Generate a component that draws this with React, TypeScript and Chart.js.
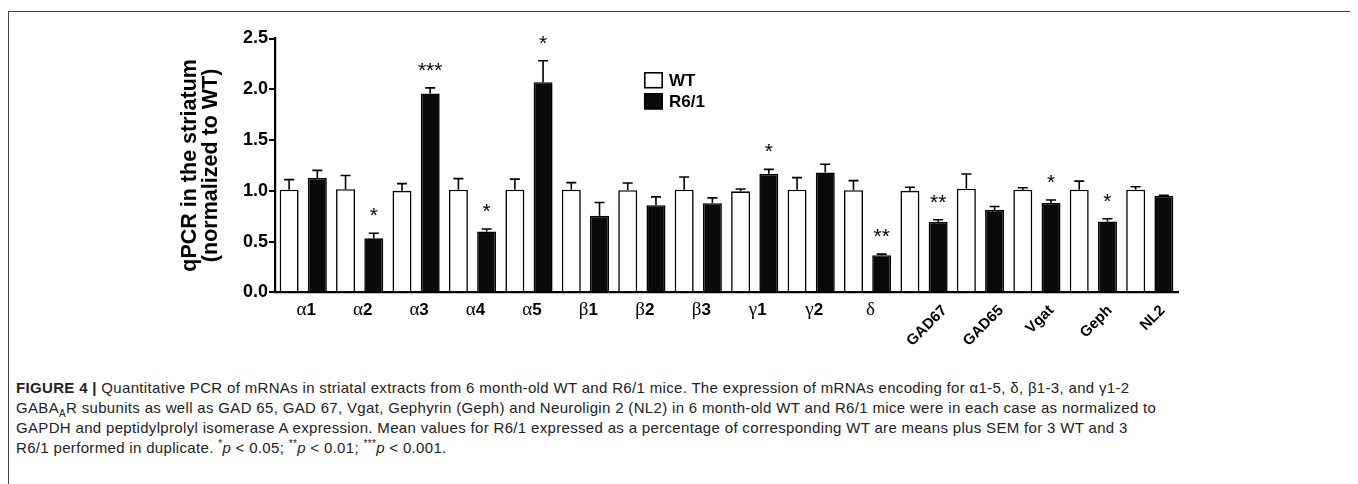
import React, { useEffect, useRef } from "react";
import { Chart, registerables } from "chart.js";

Chart.register(...registerables);

const categories = ["α1", "α2", "α3", "α4", "α5", "β1", "β2", "β3", "γ1", "γ2", "δ", "GAD67", "GAD65", "Vgat", "Geph", "NL2"];
const wtValues = [1.01, 1.015, 1.0, 1.01, 1.01, 1.01, 1.005, 1.01, 0.995, 1.01, 1.005, 1.0, 1.02, 1.01, 1.01, 1.01];
const wtErrors = [0.1, 0.135, 0.07, 0.11, 0.105, 0.07, 0.072, 0.125, 0.022, 0.12, 0.095, 0.035, 0.145, 0.02, 0.085, 0.03];
const r61Values = [1.126, 0.532, 1.958, 0.6, 2.069, 0.754, 0.858, 0.878, 1.168, 1.181, 0.366, 0.695, 0.81, 0.879, 0.698, 0.951];
const r61Errors = [0.075, 0.05, 0.056, 0.023, 0.212, 0.13, 0.082, 0.052, 0.043, 0.08, 0.01, 0.02, 0.035, 0.03, 0.026, 0.005];
const significance = ["", "*", "***", "*", "*", "", "", "", "*", "", "**", "**", "", "*", "*", ""];
const yTicks = [0, 0.5, 1.0, 1.5, 2.0, 2.5];
const seriesNames = ["WT", "R6/1"];

const errorSets = [wtErrors, r61Errors];
const SANS = "'Liberation Sans', Arial, Helvetica, sans-serif";
const SERIF = "'Liberation Serif', 'Times New Roman', serif";

const overlayPlugin = {
  id: "overlay",
  afterDatasetsDraw(chart: any) {
    const ctx = chart.ctx;
    const y = chart.scales.y;
    ctx.save();
    ctx.strokeStyle = "#000";
    ctx.lineWidth = 1.6;
    chart.data.datasets.forEach((ds: any, di: number) => {
      const meta = chart.getDatasetMeta(di);
      const errs = errorSets[di];
      meta.data.forEach((bar: any, i: number) => {
        const top = y.getPixelForValue(ds.data[i] + errs[i]);
        ctx.beginPath();
        ctx.moveTo(bar.x, bar.y);
        ctx.lineTo(bar.x, top);
        ctx.moveTo(bar.x - 5, top);
        ctx.lineTo(bar.x + 5, top);
        ctx.stroke();
      });
    });
    // significance stars above R6/1 bars
    const meta1 = chart.getDatasetMeta(1);
    ctx.fillStyle = "#000";
    ctx.font = `21px ${SANS}`;
    ctx.textAlign = "center";
    ctx.textBaseline = "alphabetic";
    meta1.data.forEach((bar: any, i: number) => {
      const s = significance[i];
      if (!s) return;
      const top = y.getPixelForValue(r61Values[i] + r61Errors[i]);
      const center = top - 23;
      ctx.fillText(s, bar.x, center + 12);
    });
    ctx.restore();
  },
  afterDraw(chart: any) {
    const ctx = chart.ctx;
    const x = chart.scales.x;
    const ca = chart.chartArea;
    const axisY = ca.bottom;
    ctx.save();
    ctx.fillStyle = "#000";
    ctx.textBaseline = "alphabetic";
    categories.forEach((lab: string, i: number) => {
      const cx = x.getPixelForValue(i);
      if (/^[α-ω]/.test(lab)) {
        const greek = lab[0];
        const rest = lab.slice(1);
        ctx.font = `19px ${SERIF}`;
        const gw = ctx.measureText(greek).width;
        ctx.font = `bold 17px ${SANS}`;
        const rw = ctx.measureText(rest).width;
        const total = gw + rw;
        const start = cx - total / 2 + 3;
        const base = axisY + 23;
        ctx.textAlign = "left";
        ctx.font = `19px ${SERIF}`;
        ctx.fillText(greek, start, base);
        ctx.font = `bold 17px ${SANS}`;
        ctx.fillText(rest, start + gw, base);
      } else {
        ctx.font = `bold 15px ${SANS}`;
        const w = ctx.measureText(lab).width;
        const h = 11;
        const cyc = axisY + 11 + ((w + h) * Math.SQRT1_2) / 2;
        ctx.save();
        ctx.translate(cx + 2, cyc);
        ctx.rotate(-Math.PI / 4);
        ctx.textAlign = "center";
        ctx.fillText(lab, 0, h / 2);
        ctx.restore();
      }
    });
    // legend
    const lx = ca.left + 0.4086 * (ca.right - ca.left);
    const tops = [ca.top + 33.5, ca.top + 54.5];
    chart.data.datasets.forEach((ds: any, di: number) => {
      const t = tops[di];
      ctx.fillStyle = ds.backgroundColor;
      ctx.fillRect(lx, t, 19, 16.5);
      ctx.strokeStyle = "#000";
      ctx.lineWidth = 1.6;
      ctx.strokeRect(lx + 0.8, t + 0.8, 17.4, 14.9);
      ctx.fillStyle = "#000";
      ctx.font = `bold 17px ${SANS}`;
      ctx.textAlign = "left";
      ctx.fillText(ds.label, lx + 25, t + 8.25 + 6);
    });
    ctx.restore();
  },
};

export default function App() {
  const canvasRef = useRef<HTMLCanvasElement | null>(null);

  useEffect(() => {
    document.documentElement.style.overflow = "hidden";
    const canvas = canvasRef.current;
    if (!canvas) return;
    const chart = new Chart(canvas, {
      type: "bar",
      data: {
        labels: categories,
        datasets: [
          {
            label: seriesNames[0],
            data: wtValues,
            backgroundColor: "#ffffff",
            borderColor: "#000000",
            borderWidth: 1.6,
            barPercentage: 0.673,
            categoryPercentage: 1.0,
          },
          {
            label: seriesNames[1],
            data: r61Values,
            backgroundColor: "#0a0a0a",
            borderColor: "#000000",
            borderWidth: 1.6,
            barPercentage: 0.673,
            categoryPercentage: 1.0,
          },
        ],
      },
      options: {
        responsive: false,
        animation: false,
        devicePixelRatio: 1,
        layout: { padding: { left: 160, right: 177, top: 26.5, bottom: 69.7 } },
        plugins: { legend: { display: false }, tooltip: { enabled: false } },
        scales: {
          x: {
            type: "category",
            offset: true,
            grid: { display: false },
            ticks: { display: false },
            border: { display: true, color: "#000", width: 2.2 },
            afterFit: (s: any) => {
              s.height = 0;
            },
          },
          y: {
            min: 0,
            max: 2.5,
            afterBuildTicks: (s: any) => {
              s.ticks = yTicks.map((v) => ({ value: v }));
            },
            ticks: {
              callback: (v: any) => Number(v).toFixed(1),
              font: { family: SANS, size: 18, weight: "bold" },
              color: "#000",
              padding: 1,
            },
            grid: { drawOnChartArea: false, drawTicks: true, tickLength: 6, color: "#000", lineWidth: 2 },
            border: { display: true, color: "#000", width: 2.2 },
            title: {
              display: true,
              text: ["qPCR in the striatum", "(normalized to WT)"],
              font: { family: SANS, size: 21.5, weight: "bold", lineHeight: 0.98 },
              color: "#000",
              padding: { top: 10.5, bottom: 0 },
            },
            afterFit: (s: any) => {
              s.width = 106;
            },
          },
        },
      },
      plugins: [overlayPlugin],
    });
    return () => chart.destroy();
  }, []);

  const captionStyle: React.CSSProperties = {
    fontFamily: SANS,
    fontSize: "15px",
    letterSpacing: "0.33px",
    lineHeight: "20px",
    color: "#222",
    marginTop: "16px",
    paddingLeft: "7px",
    whiteSpace: "nowrap",
  };

  return (
    <div style={{ paddingTop: "3px" }}>
      <div
        style={{
          position: "relative",
          boxSizing: "border-box",
          width: "1348px",
          height: "490px",
          border: "1px solid #444",
        }}
      >
        <canvas ref={canvasRef} width={1346} height={350} style={{ display: "block", width: "1346px", height: "350px" }} />
        <div style={captionStyle}>
          <div>
            <b>FIGURE 4 |</b> Quantitative PCR of mRNAs in striatal extracts from 6 month-old WT and R6/1 mice. The expression of mRNAs encoding for α1-5, δ, β1-3, and γ1-2
          </div>
          <div>
            GABA<sub style={{ fontSize: "10px", lineHeight: 0 }}>A</sub>R subunits as well as GAD 65, GAD 67, Vgat, Gephyrin (Geph) and Neuroligin 2 (NL2) in 6 month-old WT and R6/1 mice were in each case as normalized to
          </div>
          <div>
            GAPDH and peptidylprolyl isomerase A expression. Mean values for R6/1 expressed as a percentage of corresponding WT are means plus SEM for 3 WT and 3
          </div>
          <div>
            R6/1 performed in duplicate. <sup style={{ fontSize: "10px", lineHeight: 0 }}>*</sup>
            <i>p</i> &lt; 0.05; <sup style={{ fontSize: "10px", lineHeight: 0 }}>**</sup>
            <i>p</i> &lt; 0.01; <sup style={{ fontSize: "10px", lineHeight: 0 }}>***</sup>
            <i>p</i> &lt; 0.001.
          </div>
        </div>
      </div>
    </div>
  );
}
